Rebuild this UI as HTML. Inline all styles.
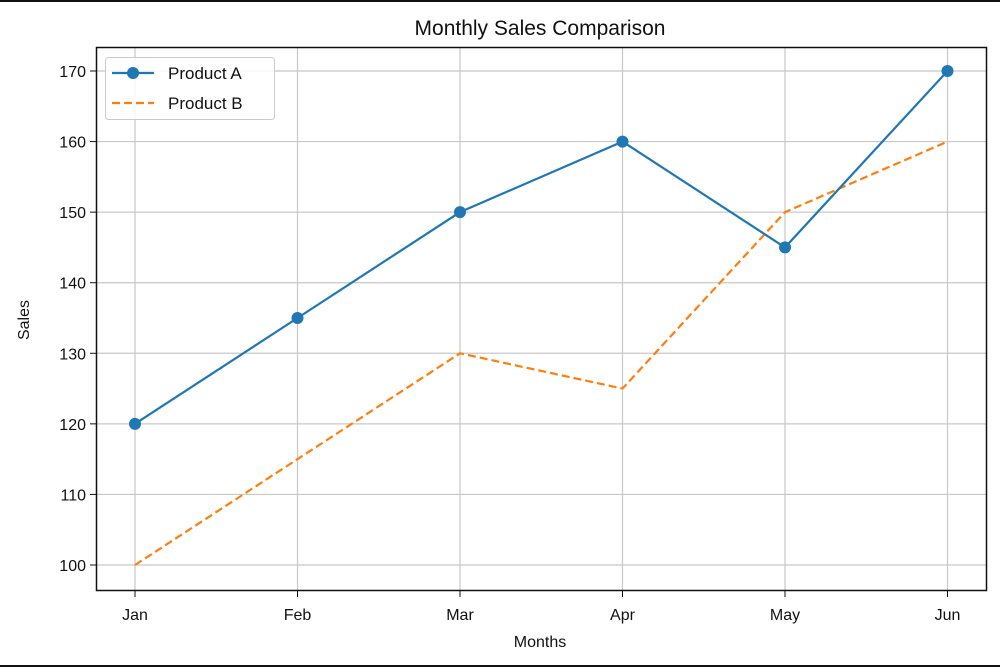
<!DOCTYPE html>
<html><head><meta charset="utf-8"><style>
body{margin:0;background:#fff}
svg{display:block;font-family:"Liberation Sans","DejaVu Sans",sans-serif}
</style></head><body>
<svg width="1000" height="667" viewBox="0 0 1000 667">
<rect x="0" y="0" width="1000" height="667" fill="#fff"/>
<line x1="0" y1="1" x2="1000" y2="1" stroke="#111" stroke-width="2"/>
<line x1="0" y1="666" x2="1000" y2="666" stroke="#111" stroke-width="2"/>
<text x="540" y="35" font-size="21" text-anchor="middle" fill="#111">Monthly Sales Comparison</text>
<g id="grid"></g>
<g id="ticks"></g>
<rect x="96.5" y="47.5" width="890" height="543" fill="none" stroke="#111" stroke-width="1.5"/>
<g id="series"></g>
<text x="540" y="647" font-size="16" text-anchor="middle" fill="#111">Months</text>
<text x="0" y="0" font-size="16" text-anchor="middle" fill="#111" transform="translate(29,320) rotate(-90)">Sales</text>
<g>
<rect x="105.5" y="57.5" width="169" height="62" rx="3" fill="#fff" fill-opacity="0.85" stroke="#ccc"/>
<g>
<line x1="112" y1="73" x2="154" y2="73" stroke="#1f77b4" stroke-width="2.2"/>
<circle cx="133" cy="73" r="6" fill="#1f77b4"/>
<text x="168" y="79" font-size="17" fill="#111">Product A</text></g>
<g>
<line x1="112" y1="103" x2="154" y2="103" stroke="#ff7f0e" stroke-width="2.2" stroke-dasharray="8,4"/>
<text x="168" y="109" font-size="17" fill="#111">Product B</text></g>
</g>
</svg>
<script>
const months=["Jan","Feb","Mar","Apr","May","Jun"];
const productA=[120,135,150,160,145,170];
const productB=[100,115,130,125,150,160];
const yTicks=[100,110,120,130,140,150,160,170];
const NS="http://www.w3.org/2000/svg";
const xs=i=>135+i*162.5;
const ys=v=>565-(v-100)*(494/70);
function mk(tag,attrs,parent){const e=document.createElementNS(NS,tag);for(const k in attrs)e.setAttribute(k,attrs[k]);parent.appendChild(e);return e;}
const grid=document.getElementById('grid'),ticks=document.getElementById('ticks'),series=document.getElementById('series');
months.forEach((m,i)=>{
 const g=mk('line',{x1:xs(i),x2:xs(i),y1:47,y2:591,stroke:'#c8c8c8','stroke-width':1.2},grid);
 
 
 mk('line',{x1:xs(i),x2:xs(i),y1:591,y2:597,stroke:'#111'},ticks);
 const t=mk('text',{x:xs(i),y:620,'font-size':16,'text-anchor':'middle',fill:'#111'},ticks);t.textContent=m;
 
 
});
yTicks.forEach(v=>{
 const g=mk('line',{x1:97,x2:986,y1:ys(v),y2:ys(v),stroke:'#c8c8c8','stroke-width':1.2},grid);
 
 
 mk('line',{x1:90,x2:96,y1:ys(v),y2:ys(v),stroke:'#111'},ticks);
 const t=mk('text',{x:86,y:ys(v)+6,'font-size':16,'text-anchor':'end',fill:'#111'},ticks);t.textContent=v;
 
 
});
const lb=mk('polyline',{points:productB.map((v,i)=>xs(i)+','+ys(v)).join(' '),fill:'none',stroke:'#ff7f0e','stroke-width':2.2,'stroke-dasharray':'8,4'},series);


const la=mk('polyline',{points:productA.map((v,i)=>xs(i)+','+ys(v)).join(' '),fill:'none',stroke:'#1f77b4','stroke-width':2.2},series);


productA.forEach((v,i)=>{
 const c=mk('circle',{cx:xs(i),cy:ys(v),r:6,fill:'#1f77b4'},series);
 
 
});
</script>
</body></html>
